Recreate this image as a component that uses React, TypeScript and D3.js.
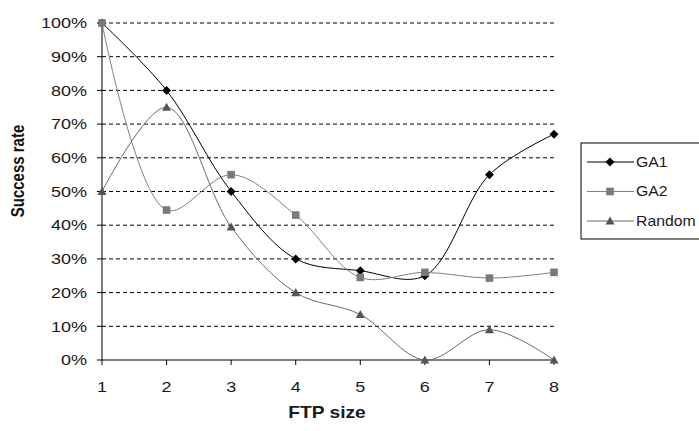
import React from "react";
import * as d3 from "d3";

const categories = [1, 2, 3, 4, 5, 6, 7, 8];
const ga1 = [100, 80, 50, 30, 26.5, 25, 55, 67];
const ga2 = [100, 44.5, 55, 43, 24.5, 26, 24.3, 26];
const randomS = [50, 75, 39.5, 20, 13.5, 0, 9, 0];
const yTicks = [0, 10, 20, 30, 40, 50, 60, 70, 80, 90, 100];
const seriesNames = ["GA1", "GA2", "Random"];

const W = 699;
const H = 431;
const left = 102;
const right = 554;
const top = 23;
const bottom = 360;
const SX = 1.2;

const FONT = "'Liberation Sans', Arial, sans-serif";

function Marker({ kind, x, y, color }: { kind: string; x: number; y: number; color: string }) {
  if (kind === "diamond") {
    const s = 4.5;
    return <path d={`M${x},${y - s}L${x + s},${y}L${x},${y + s}L${x - s},${y}Z`} fill={color} />;
  }
  if (kind === "square") {
    const s = 3.8;
    return <rect x={x - s} y={y - s} width={2 * s} height={2 * s} fill={color} />;
  }
  const s = 4.5;
  return <path d={`M${x},${y - s}L${x + s},${y + s * 0.8}L${x - s},${y + s * 0.8}Z`} fill={color} />;
}

function SText({
  x,
  y,
  anchor,
  size,
  bold,
  sx,
  children,
}: {
  x: number;
  y: number;
  anchor: string;
  size: number;
  bold?: boolean;
  sx?: number;
  children: React.ReactNode;
}) {
  return (
    <text
      transform={`translate(${x},${y}) scale(${sx ?? SX},1)`}
      dy="0.35em"
      textAnchor={anchor}
      fontSize={size}
      fontWeight={bold ? "bold" : "normal"}
      fill="#1a1a1a"
    >
      {children}
    </text>
  );
}

export default function App() {
  const x = d3.scaleLinear().domain([1, 8]).range([left, right]);
  const y = d3.scaleLinear().domain([0, 100]).range([bottom, top]);
  const line = d3
    .line<number>()
    .x((_, i) => x(categories[i]))
    .y((d) => y(d))
    .curve(d3.curveCatmullRom.alpha(0.5));

  const series = [
    { name: seriesNames[0], data: ga1, line: "#000000", marker: "#000000", kind: "diamond" },
    { name: seriesNames[1], data: ga2, line: "#808080", marker: "#7a7a7a", kind: "square" },
    { name: seriesNames[2], data: randomS, line: "#6a6a6a", marker: "#555555", kind: "triangle" },
  ];

  return (
    <svg
      width={W}
      height={H}
      style={{ position: "absolute", left: 0, top: 0, background: "#fff" }}
      fontFamily={FONT}
    >
      <rect x={0} y={0} width={W} height={H} fill="#fff" />
      {yTicks.map((t) => (
        <g key={t}>
          {t > 0 && (
            <line x1={left} x2={right} y1={y(t)} y2={y(t)} stroke="#000" strokeDasharray="4,3" strokeWidth={1} />
          )}
          <line x1={left - 5} x2={left} y1={y(t)} y2={y(t)} stroke="#000" />
          <SText x={87} y={y(t)} anchor="end" size={15}>
            {t}%
          </SText>
        </g>
      ))}
      <line x1={left} x2={left} y1={top} y2={bottom} stroke="#000" />
      <line x1={left} x2={right} y1={bottom} y2={bottom} stroke="#000" />
      {categories.map((c) => (
        <g key={c}>
          <line x1={x(c)} x2={x(c)} y1={bottom} y2={bottom + 5} stroke="#000" />
          <SText x={x(c)} y={387} anchor="middle" size={15}>
            {c}
          </SText>
        </g>
      ))}
      {series.map((s) => (
        <g key={s.name}>
          <path d={line(s.data) || ""} fill="none" stroke={s.line} strokeWidth={1} />
          {s.data.map((v, i) => (
            <Marker key={i} kind={s.kind} x={x(categories[i])} y={y(v)} color={s.marker} />
          ))}
        </g>
      ))}
      <text
        transform={`translate(24,171) scale(${SX},1) rotate(-90)`}
        textAnchor="middle"
        fontSize={15}
        fontWeight="bold"
        fill="#111"
      >
        Success rate
      </text>
      <SText x={327} y={412} anchor="middle" size={16} bold>
        FTP size
      </SText>
      <rect x={581} y={143} width={140} height={96} fill="#fff" stroke="#000" />
      {series.map((s, i) => {
        const ly = 162 + i * 29.5;
        return (
          <g key={s.name}>
            <line x1={587} x2={634} y1={ly} y2={ly} stroke={s.line} />
            <Marker kind={s.kind} x={610} y={ly} color={s.marker} />
            <SText x={636} y={ly} anchor="start" size={14} sx={1.13}>
              {s.name}
            </SText>
          </g>
        );
      })}
    </svg>
  );
}
